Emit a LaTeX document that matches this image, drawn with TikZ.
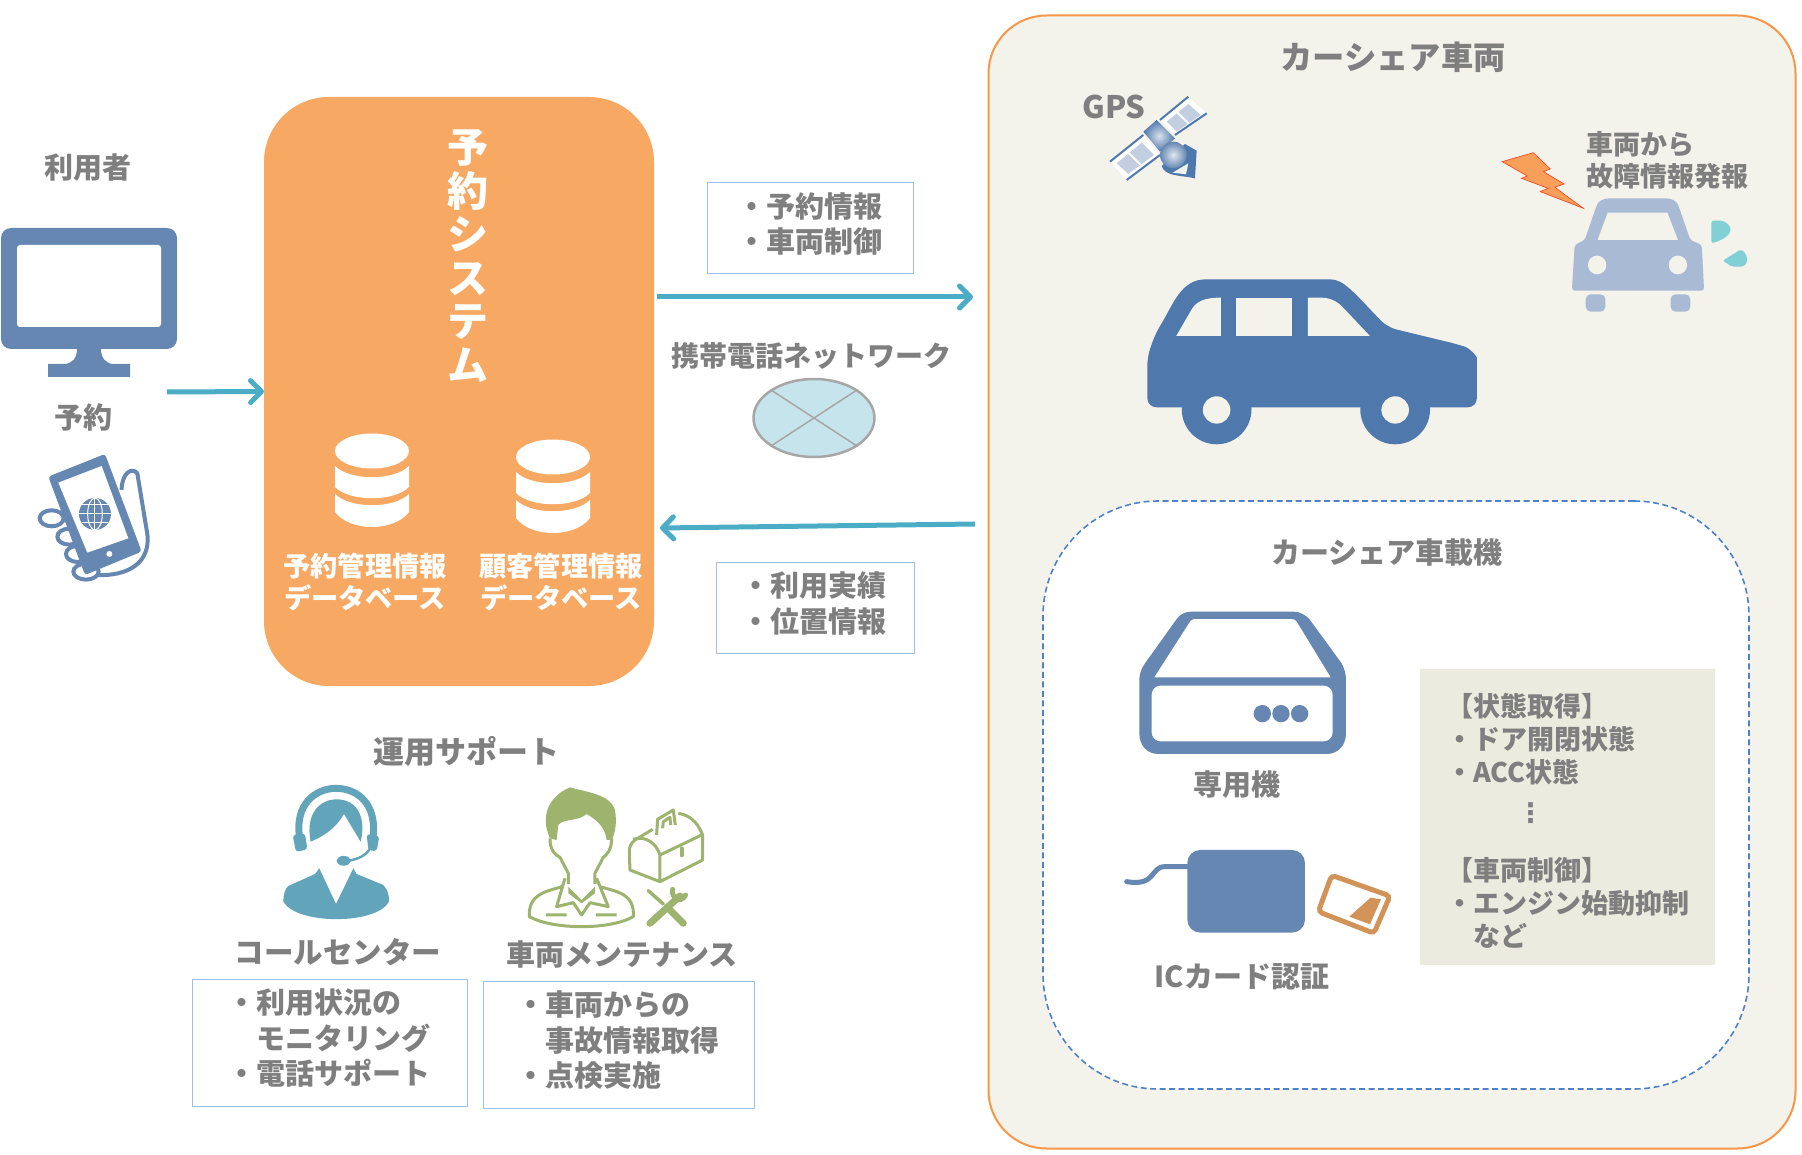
\documentclass[tikz,border=0pt]{standalone}
\usepackage{fontspec}
\usepackage{xcolor}
\usepackage{tikz}
\usetikzlibrary{arrows.meta,positioning,calc,shapes.geometric}
\setmainfont{Noto Sans CJK JP}
\newfontfamily\symfont{DejaVu Sans}
\definecolor{TextGrey}{HTML}{7F7F7F}
\definecolor{SystemOrange}{HTML}{F7A964}
\definecolor{PanelCream}{HTML}{F3F2EB}
\definecolor{PanelEdge}{HTML}{F79646}
\definecolor{DashBlue}{HTML}{4F81C7}
\definecolor{InfoEdge}{HTML}{9DBFE8}
\definecolor{FlowTeal}{HTML}{4BACC6}
\definecolor{IconBlue}{HTML}{6687B2}
\definecolor{CarBlue}{HTML}{4F78AC}
\definecolor{PaleCar}{HTML}{A9BBD4}
\definecolor{DropTeal}{HTML}{80D0D5}
\definecolor{HeadsetTeal}{HTML}{62A5BA}
\definecolor{MechGreen}{HTML}{9DB36E}
\definecolor{CardOrange}{HTML}{D29359}
\definecolor{StateBeige}{HTML}{ECEBE0}
\definecolor{NetFill}{HTML}{C6E4EC}

\begin{document}
\begin{tikzpicture}[x=1pt,y=-1pt]
  \path[use as bounding box] (0,0) rectangle (1802,1155);

  \tikzset{
    csLabel/.style={
      inner sep=0pt,
      align=center,
      text=TextGrey,
      font=\fontsize{29}{35}\selectfont\bfseries
    },
    csPanel/.style={
      inner sep=0pt,
      outer sep=0pt,
      rounded corners=58pt
    },
    csInfo/.style={
      draw=InfoEdge,
      line width=1pt,
      outer sep=0pt,
      inner ysep=0pt,
      text height=16.5pt,
      align=left,
      text=TextGrey,
      font=\fontsize{29}{35.5}\selectfont\bfseries
    },
    csFlow/.style={
      -{Straight Barb[length=11pt,width=22pt,round]},
      draw=FlowTeal,
      line width=5pt
    },
    csDb/.pic={
      \fill[white] (0,0) ellipse [x radius=37,y radius=17.5];
      \fill[white] (-37,15) .. controls (-22,30) and (22,30) .. (37,15)
        -- (37,36) .. controls (22,51) and (-22,51) .. (-37,36) -- cycle;
      \fill[white] (-37,43) .. controls (-22,58) and (22,58) .. (37,43)
        -- (37,61) .. controls (22,81) and (-22,81) .. (-37,61) -- cycle;
    }
  }

  % 車両パネルと車載機
  \node[csPanel,draw=PanelEdge,line width=2pt,fill=PanelCream,
    minimum width=807pt,minimum height=1133pt] (carpanel) at (1392,582) {};
  \node[csPanel,rounded corners=115pt,draw=DashBlue,line width=1.6pt,dash pattern=on 6pt off 3.5pt,fill=white,
    minimum width=706pt,minimum height=588pt] (unit) at (1396,795) {};
  \node[csLabel,font=\fontsize{32.3}{35}\selectfont\bfseries] (cartitle) at (1393,57) {カーシェア車両};
  \node[csLabel] (unittitle) at (1387,553) {カーシェア車載機};

  % 予約システム
  \node[csPanel,rounded corners=65pt,fill=SystemOrange,
    minimum width=390pt,minimum height=589pt] (system) at (459,391.5) {};
  \node[inner sep=0pt,align=center,text=white,font=\fontsize{41}{43.5}\selectfont\bfseries]
    (systitle) at (468,256) {予\\約\\シ\\ス\\テ\\ム};
  \pic at (372,451) {csDb};
  \pic at (553,457) {csDb};
  \node[csLabel,text=white,font=\fontsize{27.2}{32}\selectfont\bfseries] (dbreserve) at (365,582)
    {予約管理情報\\データベース};
  \node[csLabel,text=white,font=\fontsize{27.2}{32}\selectfont\bfseries] (dbcustomer) at (561,582)
    {顧客管理情報\\データベース};

  % 利用者
  \node[csLabel] (user) at (88,168) {利用者};
  \node[csLabel] (reserve) at (83,417) {予約};
  \fill[IconBlue,rounded corners=10pt] (1,228) rectangle (177,349);
  \fill[white,rounded corners=3pt] (17,245) rectangle (161,327);
  \fill[IconBlue] (77,349) -- (101,349) .. controls (101,358) and (106,364) .. (114,364)
    -- (130,364) -- (130,377) -- (48,377) -- (48,364) -- (64,364)
    .. controls (72,364) and (77,358) .. (77,349) -- cycle;
  \begin{scope}[shift={(0,130)},scale=.3333]
    \draw[IconBlue,line width=4pt,line join=round] (365,1080) .. controls (365,1030) and (395,1010) .. (412,1030)
      -- (440,1200) .. controls (460,1300) and (380,1340) .. (290,1335);
    \foreach \fx/\fy/\frx in {155/1165/36,208/1220/36,232/1272/34,258/1325/38}
      \draw[IconBlue,line width=4pt,fill=white] (\fx,\fy) ellipse [x radius=\frx,y radius=24];
    \fill[IconBlue,rounded corners=3pt] (145,1040) -- (315,972) -- (425,1265) -- (255,1335) -- cycle;
    \fill[white] (175,1058) -- (305,1008) -- (385,1225) -- (262,1268) -- cycle;
    \fill[white] (328,1272) circle (9);
    \fill[IconBlue] (285,1152) circle (48);
    \draw[white,line width=1pt] (285,1152) ellipse [x radius=22,y radius=48];
    \draw[white,line width=1pt] (285,1152) -- +(0,-48) (285,1152) -- +(0,48)
      (237,1152) -- (333,1152) (245,1125) -- (325,1125) (245,1179) -- (325,1179);
  \end{scope}
  \coordinate (userout) at (167,392);
  \draw[csFlow] (userout) -- (system.west);

  % 携帯電話ネットワーク
  \node[csInfo,inner xsep=30pt,text width=146pt,minimum height=91pt] (infosend) at (810,228)
    {・予約情報\\・車両制御};
  \node[csInfo,inner xsep=25pt,text width=148pt,minimum height=91pt] (inforecv) at (815,607.5)
    {・利用実績\\・位置情報};
  \node[csLabel,font=\fontsize{28}{35}\selectfont\bfseries] (netlabel) at (811,356) {携帯電話ネットワーク};
  \node[ellipse,draw=black!35,line width=2.5pt,fill=NetFill,inner sep=0pt,
    minimum width=121pt,minimum height=78pt] (network) at (814,418) {};
  \draw[black!35,line width=1.5pt] (network.north west) -- (network.south east)
    (network.north east) -- (network.south west);
  \coordinate (sendstart) at (657,297);
  \coordinate (sendend) at (973,297);
  \coordinate (recvstart) at (975,524);
  \coordinate (recvend) at (660,528);
  \draw[csFlow] (sendstart) -- (sendend);
  \draw[csFlow] (recvstart) -- (recvend);

  % 運用サポート
  \node[csLabel,font=\fontsize{31}{35}\selectfont\bfseries] (support) at (466,751) {運用サポート};
  \begin{scope}[shift={(220,760)},scale=.3333]
    \fill[HeadsetTeal] (298,325) -- (348,432) -- (400,325) -- (410,342) -- (490,375)
      .. controls (505,390) and (508,410) .. (507,425)
      .. controls (470,495) and (230,495) .. (190,425)
      .. controls (190,405) and (195,385) .. (205,378) -- (285,342) -- cycle;
    \fill[HeadsetTeal] (272,245) .. controls (255,160) and (300,118) .. (350,118)
      .. controls (410,118) and (440,170) .. (422,245) -- (372,162)
      .. controls (350,200) and (320,225) .. (272,245) -- cycle;
    \draw[HeadsetTeal,line width=7pt] (240,240) .. controls (220,130) and (290,85) .. (348,85)
      .. controls (410,85) and (475,130) .. (458,240);
    \fill[HeadsetTeal,rounded corners=3pt] (218,225) -- (255,220) -- (262,268) -- (228,276) -- cycle;
    \fill[HeadsetTeal,rounded corners=3pt] (440,222) -- (478,228) -- (470,274) -- (445,270) -- cycle;
    \draw[HeadsetTeal,line width=2.5pt] (450,265) .. controls (440,285) and (415,298) .. (385,302);
    \fill[HeadsetTeal,rounded corners=6pt] (350,288) rectangle (392,317);
    % 整備員
    \fill[MechGreen] (990,235) .. controls (960,170) and (985,110) .. (1050,82)
      .. controls (1090,95) and (1170,100) .. (1185,150)
      .. controls (1192,190) and (1185,220) .. (1175,240) -- (1160,240)
      .. controls (1155,200) and (1130,180) .. (1100,162)
      .. controls (1075,185) and (1030,175) .. (1015,195) -- (1010,240) -- cycle;
    \draw[MechGreen,line width=3pt,line join=round]
      (990,235) .. controls (990,270) and (1005,285) .. (1020,292) -- (1045,340) -- (1045,372)
      (1175,235) .. controls (1175,270) and (1160,285) .. (1150,292) -- (1125,340) -- (1125,372)
      (1025,380) .. controls (980,395) and (925,400) .. (928,470)
      .. controls (1000,510) and (1170,510) .. (1240,470)
      .. controls (1245,400) and (1190,395) .. (1140,380)
      (1035,355) -- (1010,440) -- (1060,428) -- (1085,465) -- (1110,428) -- (1165,440) -- (1130,355)
      (978,465) -- (1040,465) (1128,465) -- (1190,465);
    \fill[MechGreen] (1045,380) -- (1085,420) -- (1125,380) -- (1125,400) -- (1085,430) -- (1045,400) -- cycle;
    \draw[MechGreen,line width=3pt,line join=round]
      (1298,208) -- (1245,240) .. controls (1232,250) and (1228,262) .. (1228,275) -- (1230,330)
      -- (1320,365) -- (1448,300) -- (1448,225) .. controls (1430,180) and (1405,165) .. (1375,160)
      (1240,238) .. controls (1275,225) and (1310,250) .. (1320,285) -- (1320,365)
      (1320,285) -- (1445,225)
      (1310,225) -- (1313,178) -- (1360,150) -- (1366,195)
      (1328,205) -- (1330,185) -- (1350,172) -- (1352,195);
    \draw[MechGreen,line width=4pt,line cap=round] (1385,265) -- (1385,286);
    \draw[MechGreen,line width=7pt,line cap=round] (1290,490) -- (1380,408);
    \draw[MechGreen,line width=3.5pt,line cap=round] (1285,392) -- (1330,432);
    \draw[MechGreen,line width=7pt,line cap=round] (1350,450) -- (1390,490);
    \draw[MechGreen,line width=5pt,line cap=round] (1358,388) .. controls (1352,410) and (1380,435) .. (1397,405);
  \end{scope}
  \node[csLabel,font=\fontsize{29.5}{35}\selectfont\bfseries] (callcenter) at (338,952) {コールセンター};
  \node[csLabel] (maintenance) at (622,955) {車両メンテナンス};
  \node[csInfo,inner xsep=35pt,text width=205pt,minimum height=127pt] (infocall) at (329.5,1042.5)
    {・利用状況の\\\hspace*{1em}モニタリング\\・電話サポート};
  \node[csInfo,inner xsep=33pt,text width=205pt,minimum height=127pt] (infomaint) at (618.5,1044.5)
    {・車両からの\\\hspace*{1em}事故情報取得\\・点検実施};

  % 車両アイコン
  \node[csLabel,font=\fontsize{31}{35}\selectfont\bfseries] (gps) at (1114,107) {GPS};
  \begin{scope}[shift={(1060,80)},scale=.3333]
    \fill[white] (150,245) -- (250,165) -- (300,225) -- (200,300) -- cycle;
    \fill[white] (300,120) -- (385,50) -- (440,100) -- (345,165) -- cycle;
    \fill[IconBlue!40] (170,250) -- (245,188) -- (282,225) -- (205,282) -- cycle;
    \fill[IconBlue!40] (320,125) -- (385,72) -- (422,105) -- (350,155) -- cycle;
    \draw[white,line width=2pt] (205,218) -- (245,258) (352,98) -- (388,132);
    \draw[CarBlue,line width=2pt] (150,245) -- (250,165) (200,300) -- (300,225)
      (300,120) -- (385,50) (345,165) -- (440,100);
    \fill[CarBlue] (305,258) .. controls (315,290) and (360,285) .. (405,295) -- (410,212)
      -- (375,192) -- cycle;
    \fill[PanelCream] (338,278) -- (385,250) -- (378,283) -- cycle;
    \shade[inner color=white!75!IconBlue,outer color=CarBlue] (250,155) -- (290,120) -- (345,175) -- (300,215) -- cycle;
    \shade[inner color=white!80!IconBlue,outer color=IconBlue] (340,225) circle (40);
  \end{scope}
  \node[csLabel,align=left,font=\fontsize{27}{32}\selectfont\bfseries] (failure) at (1667,160)
    {車両から\\故障情報発報};
  \begin{scope}[shift={(1050,70)},xscale=.459,yscale=.3333]
    % 走行車
    \fill[CarBlue,rounded corners=9pt] (212,1012) -- (212,860) -- (230,790)
      .. controls (270,700) and (285,628) .. (360,628) -- (590,628)
      .. controls (640,628) and (660,665) .. (735,772) -- (885,822)
      .. controls (915,835) and (930,860) .. (930,890) -- (930,1012) -- cycle;
    \fill[CarBlue] (363,1018) ellipse [x radius=76,y radius=105];
    \fill[CarBlue] (752,1018) ellipse [x radius=76,y radius=105];
    \fill[PanelCream] (363,1020) ellipse [x radius=30,y radius=41];
    \fill[PanelCream] (752,1020) ellipse [x radius=30,y radius=41];
    \fill[PanelCream] (275,798) -- (310,715) .. controls (320,695) and (335,683) .. (372,683) -- (372,798) -- cycle;
    \fill[PanelCream] (405,683) rectangle (527,798);
    \fill[PanelCream] (562,683) -- (590,683) .. controls (615,683) and (630,700) .. (640,715) -- (697,798) -- (562,798) -- cycle;
    % 故障車
    \fill[PaleCar,rounded corners=3pt] (1165,510) -- (1190,410) .. controls (1195,395) and (1205,385) .. (1225,385)
      -- (1335,385) .. controls (1355,385) and (1365,395) .. (1370,410) -- (1395,510)
      -- (1420,525) -- (1425,662) -- (1137,662) -- (1143,525) -- cycle;
    \fill[PanelCream] (1193,510) -- (1215,428) -- (1345,428) -- (1368,510) -- cycle;
    \fill[PanelCream] (1192,585) ellipse [x radius=20,y radius=28];
    \fill[PanelCream] (1368,585) ellipse [x radius=20,y radius=28];
    \fill[PaleCar,rounded corners=5pt] (1167,673) rectangle (1210,725);
    \fill[PaleCar,rounded corners=5pt] (1352,673) rectangle (1395,725);
    \fill[DropTeal,rounded corners=2pt] (1441,452) -- (1465,452) .. controls (1490,470) and (1490,500) .. (1441,520) -- cycle;
    \fill[DropTeal,rounded corners=2pt] (1505,538) .. controls (1525,560) and (1520,590) .. (1500,590) -- (1485,590) -- (1466,572) -- cycle;
    \draw[red!60!PanelEdge,line width=.6pt,fill=PanelEdge!90!white,line join=miter]
      (985,275) -- (1053,248) -- (1090,297) -- (1075,305) -- (1120,342) -- (1100,352)
      -- (1162,415) -- (1068,365) -- (1085,355) -- (1027,325) -- (1040,318) -- cycle;
  \end{scope}

  % 車載機の中身
  \begin{scope}[shift={(1100,600)},scale=.3333]
    \fill[IconBlue] (118,240) .. controls (118,225) and (122,208) .. (135,190) -- (228,60)
      .. controls (240,42) and (255,35) .. (275,35) -- (580,35)
      .. controls (600,35) and (618,45) .. (630,60) -- (725,190)
      .. controls (733,205) and (738,222) .. (738,240) -- (738,400)
      .. controls (738,435) and (715,462) .. (680,462) -- (175,462)
      .. controls (140,462) and (118,435) .. (118,400) -- cycle;
    \fill[white] (163,232) -- (270,65) .. controls (274,60) and (278,57) .. (285,57)
      -- (575,57) .. controls (582,57) and (586,60) .. (590,65) -- (692,232) -- cycle;
    \fill[white,rounded corners=9pt] (155,257) -- (698,257) -- (698,424) -- (155,424) -- cycle;
    \foreach \dx in {487,543,599}
      \fill[IconBlue] (\dx,341) circle (26);
    \fill[IconBlue,rounded corners=13pt] (262,750) rectangle (615,998);
    \draw[IconBlue,line width=5pt,line cap=round] (262,800) -- (195,800)
      .. controls (150,800) and (170,860) .. (80,845);
    \draw[CardOrange,line width=5pt,rounded corners=4pt] (695,826) -- (870,888) -- (822,1000) -- (655,935) -- cycle;
    \fill[CardOrange] (748,950) -- (812,893) -- (843,898) -- (810,973) -- cycle;
  \end{scope}
  \node[csLabel] (dedicated) at (1237,785) {専用機};
  \node[csLabel] (cardauth) at (1242,977) {ICカード認証};
  \node[fill=StateBeige,inner xsep=26pt,inner ysep=0pt,outer sep=0pt,text width=243pt,minimum height=296pt,
    text height=30pt,align=left,text=TextGrey,font=\fontsize{27}{33}\selectfont\bfseries] (status) at (1567.5,817)
    {【状態取得】\\・ドア開閉状態\\・ACC状態\\[7pt]\hspace*{71pt}{\symfont ⋮}\\[25pt]【車両制御】\\・エンジン始動抑制\\\hspace*{1em}など};
\end{tikzpicture}
\end{document}
